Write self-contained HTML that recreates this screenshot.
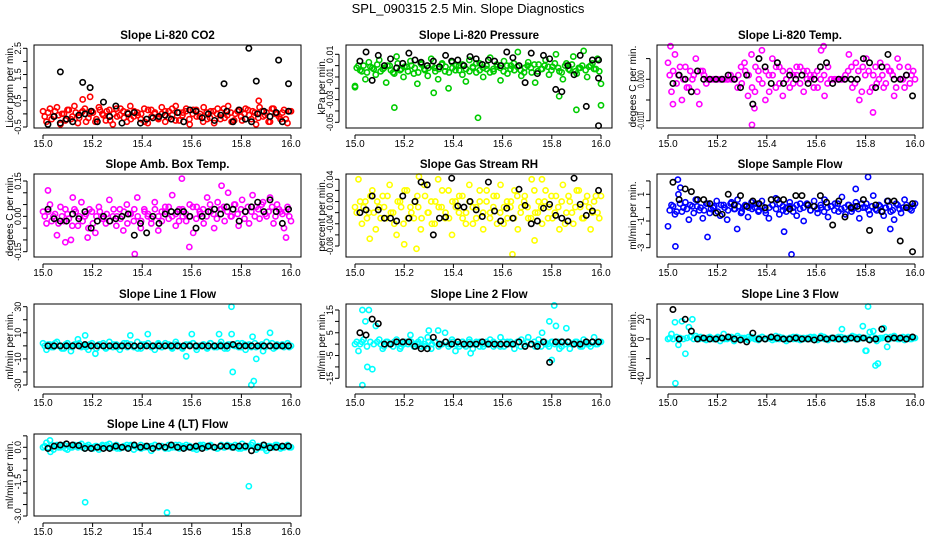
<!DOCTYPE html>
<html><head><meta charset="utf-8"><style>
body{margin:0;background:#fff;}
svg{display:block;font-family:"Liberation Sans",sans-serif;}
</style></head><body>
<svg id="c" width="936" height="540" viewBox="0 0 936 540">
<text x="468" y="13" text-anchor="middle" font-size="13">SPL_090315  2.5 Min. Slope Diagnostics</text>
</svg>
<script>
// ---- data ----
const co2Main=[0.1,-0.3,0.2,-0.1,0.25,-0.4,0.0,0.15,-0.2,0.3,-0.35,0.05,0.2,-0.15,0.1,-0.3,0.25,0.0,-0.25,0.15,-0.4,0.2,-0.05,0.1,-0.3,0.3,-0.1,0.05,-0.2,0.2,-0.35,0.15,0.0,-0.15,0.25,-0.3,0.1,-0.05,0.3,-0.25,0.05,0.2,-0.4,0.15,-0.1,0.0,0.25,-0.2,0.1,-0.35,0.2,0.05,-0.15,0.3,-0.3,0.0,0.15,-0.25,0.2,-0.05,0.1,-0.4,0.25,-0.1,0.05,-0.3,0.2,0.0,-0.2,0.15,-0.35,0.1];
const co2Main2=[-0.1,0.05,-0.2,0.1,-0.05,0.0,-0.25,0.15,-0.1,0.05,-0.15,0.1,-0.3,0.0,0.05,-0.2,0.15,-0.05,0.1,-0.25,0.0,-0.1,0.2,-0.15,0.05,-0.2,0.1,-0.05,0.0,-0.3,0.15,-0.1,0.05,-0.2,0.0,0.1,-0.15,0.2,-0.25,0.05,-0.05,0.1,-0.2,0.0,0.15,-0.1,-0.3,0.05,-0.15,0.1,0.0,-0.2,0.2,-0.05,0.05,-0.25,0.1,-0.1,0.0,0.15,-0.2,0.05,-0.15,0.1,-0.05,-0.3,0.2,0.0,-0.1,0.05,-0.2,0.1];
const co2Black=[-0.4,-0.1,-0.35,-0.2,-0.3,-0.05,0.0,0.1,-0.3,0.45,-0.1,0.3,-0.35,0.0,0.05,-0.35,-0.2,-0.15,-0.1,-0.05,-0.2,0.05,-0.3,0.15,0.1,-0.15,0.0,-0.25,-0.05,0.1,-0.3,0.15,-0.2,-0.3,0.0,0.1,-0.1,0.05,-0.3,0.1];
const co2ExtraMain=[[15.16,0.55],[15.19,0.65],[15.87,0.5]];
const co2ExtraBlack=[[15.07,1.6],[15.16,1.2],[15.19,1.0],[15.73,1.15],[15.83,2.5],[15.86,1.25],[15.95,2.05],[15.99,1.15]];

const presMain=[-0.018,0.0,-0.005,-0.012,0.003,-0.002,-0.008,0.005,-0.003,-0.015,0.0,-0.006,0.008,-0.004,-0.01,-0.001,0.004,-0.007,-0.016,0.002,-0.003,-0.009,0.006,-0.002,-0.012,0.001,-0.005,-0.02,0.003,-0.004,0.0,-0.008,-0.014,0.005,-0.002,-0.006,0.002,-0.01,-0.003,0.007,-0.005,-0.001,-0.013,0.004,-0.007,0.0,-0.004,0.012,-0.009,-0.002,0.003,-0.006,-0.015,0.001,-0.003,0.005,-0.008,-0.001,0.01,-0.005,-0.012,0.002,-0.004,0.008,-0.007,-0.002,0.013,-0.01,0.0,-0.003,0.006,-0.016];
const presMain2=[-0.002,-0.004,0.0,-0.006,-0.001,-0.003,0.001,-0.005,-0.002,0.0,-0.004,-0.007,0.002,-0.003,-0.001,-0.005,0.0,-0.002,-0.006,0.001,-0.004,-0.002,0.0,-0.005,-0.003,0.002,-0.001,-0.006,-0.002,0.0,-0.004,0.001,-0.003,-0.005,-0.001,0.002,-0.004,-0.002,0.0,-0.006,-0.003,0.001,-0.002,-0.005,0.0,-0.003,0.002,-0.001,-0.004,-0.006,0.0,-0.002,0.001,-0.005,-0.003,0.0,-0.001,-0.004,0.002,-0.002,-0.006,0.0,-0.003,0.001,-0.005,-0.002,0.0,-0.004,-0.001,0.002,-0.003,-0.005];
const presBlack=[0.004,0.012,-0.013,0.009,0.0,0.006,-0.002,0.002,0.011,0.005,0.003,0.0,0.004,-0.001,0.009,0.004,0.005,0.0,0.008,0.006,0.001,0.005,0.004,0.0,0.012,0.007,0.0,-0.015,0.011,-0.007,0.009,0.006,-0.021,-0.023,0.0,-0.008,0.009,-0.036,0.005,0.005];
const presExtraMain=[[15.16,-0.037],[15.5,-0.046],[15.9,-0.039],[16.0,-0.035],[15.32,-0.024],[15.83,-0.027],[15.0,-0.019]];
const presExtraBlack=[[15.99,-0.053],[15.99,-0.011]];

const tempMain=[0.004,-0.003,0.006,0.001,-0.005,0.003,-0.002,0.0,0.005,-0.006,0.002,-0.001,0.0,0.0,0.0,0.0,0.0,0.0,0.001,0.0,-0.002,0.003,0.004,-0.004,0.006,-0.003,0.002,0.007,-0.005,0.001,0.005,-0.002,0.003,-0.004,0.0,0.002,-0.001,0.001,0.003,-0.003,0.002,0.0,0.001,-0.002,0.007,-0.004,0.003,0.0,0.0,0.0,0.0,0.001,0.006,-0.002,0.004,-0.005,0.003,0.005,-0.003,0.001,-0.001,0.004,-0.002,0.003,0.002,-0.004,0.005,0.0,-0.002,0.003,0.001,0.0];
const tempMain2=[0.001,0.002,-0.001,0.003,0.0,-0.002,0.002,0.001,-0.003,0.002,0.001,0.0,0.0,0.0,0.0,0.0,0.0,0.0,0.0,0.0,0.001,-0.001,0.002,0.001,-0.002,0.003,0.0,-0.001,0.002,-0.003,0.001,0.003,-0.001,0.002,0.0,-0.002,0.001,0.003,-0.001,0.002,0.0,0.001,-0.002,0.002,0.0,0.001,-0.001,0.0,0.0,0.0,0.0,0.0,0.002,0.003,-0.001,0.002,-0.003,0.001,0.002,-0.002,0.003,0.0,0.001,-0.001,0.002,0.001,-0.002,0.003,0.0,0.001,-0.001,0.002];
const tempBlack=[-0.001,0.001,0.0,-0.003,0.002,0.0,0.0,0.0,0.0,0.001,0.0,-0.002,0.001,-0.006,0.005,0.003,-0.001,0.004,-0.001,0.001,0.0,0.001,-0.001,0.0,0.003,0.004,-0.001,0.0,0.0,0.0,0.0,0.005,0.004,-0.002,0.003,0.006,0.0,0.0,0.001,-0.004];
const tempExtraMain=[[15.01,0.008],[15.34,-0.011],[15.63,0.008],[15.83,-0.008],[15.02,-0.006],[15.35,-0.007]];
const tempExtraBlack=[];

const ambMain=[0.02,-0.03,0.05,0.0,-0.08,0.04,-0.02,0.01,-0.1,0.03,-0.04,0.06,0.0,-0.05,0.02,-0.07,0.04,-0.01,-0.03,0.07,0.0,-0.04,0.03,-0.06,0.05,0.01,-0.02,0.08,-0.05,0.03,0.0,-0.03,0.06,-0.06,0.02,0.04,-0.01,0.09,-0.04,0.03,0.0,-0.02,0.05,-0.07,0.04,0.01,-0.03,0.08,0.02,-0.05,0.06,0.03,-0.02,0.1,0.0,0.05,-0.04,0.07,0.02,-0.03,0.09,0.04,-0.01,0.06,0.0,0.08,-0.03,0.05,0.02,-0.05,0.04,-0.02];
const ambMain2=[0.0,0.02,-0.02,0.01,-0.03,0.0,0.03,-0.01,-0.04,0.02,0.0,-0.02,0.01,0.03,-0.03,0.0,0.02,-0.01,0.01,-0.02,0.03,0.0,-0.01,0.02,-0.03,0.01,0.03,0.0,-0.02,0.02,0.01,-0.01,0.03,0.0,-0.02,0.02,0.04,0.0,0.01,-0.02,0.03,0.01,0.0,0.04,-0.01,0.02,0.03,0.0,0.05,0.01,-0.01,0.03,0.04,0.02,0.0,0.05,0.01,0.03,-0.01,0.04,0.02,0.0,0.03,0.05,0.01,0.02,0.04,0.0,0.03,0.01,0.02,0.0];
const ambBlack=[0.03,-0.01,-0.02,-0.02,0.01,-0.01,0.02,-0.05,-0.02,0.0,-0.02,-0.01,0.0,0.01,-0.08,-0.03,-0.07,0.0,-0.03,0.01,0.02,0.02,0.02,0.0,-0.05,0.0,0.02,0.03,0.01,0.04,0.03,-0.02,0.02,0.04,0.06,0.02,0.07,0.02,-0.03,0.03];
const ambExtraMain=[[15.02,0.11],[15.12,0.08],[15.56,0.16],[15.72,0.13],[15.37,-0.16],[15.59,-0.13],[15.09,-0.11],[15.18,-0.09],[15.98,-0.09]];
const ambExtraBlack=[];

const rhMain=[-0.01,0.04,-0.04,0.0,-0.02,0.02,-0.05,-0.01,0.01,-0.03,0.03,-0.02,-0.06,0.0,-0.04,0.02,-0.01,-0.03,0.01,-0.05,0.03,-0.02,0.0,-0.04,0.04,-0.01,-0.03,0.02,-0.06,0.0,-0.02,0.01,-0.04,0.03,-0.01,-0.03,0.0,-0.05,0.02,-0.02,0.01,-0.04,0.03,-0.01,-0.03,0.0,0.02,-0.05,-0.01,0.01,-0.03,0.04,-0.02,0.0,-0.04,0.02,-0.01,-0.03,0.01,-0.05,0.03,-0.02,0.0,-0.04,0.02,-0.01,-0.03,0.01,-0.05,0.0,-0.02,0.01];
const rhMain2=[-0.02,0.0,-0.01,-0.03,0.01,-0.02,0.0,-0.03,-0.01,0.01,-0.02,-0.04,0.0,-0.01,0.02,-0.03,-0.02,0.0,-0.01,-0.03,0.01,-0.02,-0.04,0.0,-0.01,0.02,-0.02,-0.03,0.0,-0.01,0.01,-0.03,-0.02,0.0,-0.04,-0.01,0.02,-0.02,0.0,-0.03,-0.01,0.01,-0.02,-0.04,0.0,-0.01,-0.03,0.01,-0.02,0.0,-0.01,-0.03,0.02,-0.02,-0.01,0.0,-0.03,0.01,-0.02,-0.01,0.0,-0.04,0.01,-0.02,-0.01,0.02,-0.03,0.0,-0.01,-0.02,0.01,-0.03];
const rhBlack=[-0.02,-0.015,0.01,-0.015,-0.03,-0.03,-0.035,0.01,-0.03,0.0,0.035,0.03,-0.06,-0.03,-0.028,0.042,-0.008,-0.01,0.0,-0.015,-0.027,0.035,-0.017,-0.035,-0.012,-0.03,0.022,-0.007,-0.04,-0.035,-0.012,-0.005,-0.025,-0.03,-0.035,0.042,-0.005,-0.025,-0.017,0.02];
const rhExtraMain=[[15.26,0.045],[15.76,0.04],[15.64,-0.095],[15.25,-0.085],[15.2,-0.077],[15.73,-0.07],[15.06,-0.067]];
const rhExtraBlack=[];

const flowMain=[-1.4,0.2,-0.5,1.0,-0.3,0.4,-0.9,0.1,0.6,-0.2,-0.8,0.3,-0.4,0.0,0.5,-0.6,0.2,-0.9,0.3,-0.1,0.6,-0.4,0.1,-0.7,0.4,0.0,-0.3,0.5,-0.2,-0.8,0.2,0.7,-0.5,0.1,-0.3,0.4,0.0,-0.6,0.3,-1.0,0.2,-0.2,0.5,-0.4,0.0,0.6,-0.7,0.1,0.3,-0.3,0.8,-0.5,0.2,-0.1,0.4,-0.8,0.0,0.3,-0.5,0.9,-0.2,0.1,-0.6,0.5,-0.3,-0.9,0.2,-0.4,0.6,0.0,-0.2,0.3];
const flowMain2=[-0.2,0.1,-0.3,0.3,0.0,-0.1,0.2,-0.4,0.1,0.0,-0.2,0.3,-0.1,0.1,-0.3,0.2,0.0,-0.2,0.4,-0.1,0.1,-0.3,0.2,0.0,-0.1,0.3,-0.2,0.1,-0.4,0.0,0.2,-0.1,0.3,-0.2,0.0,0.1,-0.3,0.2,-0.1,0.0,0.3,-0.2,0.1,-0.1,0.2,-0.3,0.0,0.1,-0.2,0.3,-0.1,0.0,0.2,-0.3,0.1,-0.1,0.3,0.0,-0.2,0.1,-0.1,0.2,-0.3,0.0,0.1,-0.2,0.3,-0.1,0.0,0.2,-0.1,0.1];
const flowBlack=[1.9,0.6,1.4,1.2,0.6,0.6,0.3,-0.4,-0.5,1.0,0.2,0.9,0.1,0.5,0.3,0.0,0.6,0.6,0.6,-0.1,0.9,0.9,0.2,0.1,0.9,0.4,-1.3,0.5,-0.7,0.0,0.1,0.6,-1.7,0.2,-0.3,0.5,0.5,-2.5,0.0,0.3];
const flowExtraMain=[[15.04,2.1],[15.03,-2.9],[15.16,-2.2],[15.28,-1.6],[15.47,-1.8],[15.5,-3.5],[15.81,2.3],[15.76,1.4],[15.9,-1.6],[15.05,1.5]];
const flowExtraBlack=[[15.99,-3.3]];

const l1Main=[2,-3,1,-1,3,0,-2,2,-4,1,5,-1,0,-3,2,-6,1,0,-2,3,-1,1,-3,0,2,8,-1,3,-2,1,9,0,-3,2,-1,0,1,-2,3,0,-1,-8,1,2,-3,0,1,-2,2,-1,0,3,-2,1,9,0,-1,2,-3,1,7,-1,0,-4,3,10,-2,1,0,-1,2,0];
const l1Main2=[0,1,-1,2,0,-2,1,0,-1,1,2,0,-1,1,0,-2,1,2,-1,0,1,-1,0,2,-1,1,0,-2,1,0,2,-1,0,1,-1,2,0,-1,1,0,-2,1,0,2,-1,0,1,-1,2,0,-1,1,0,-2,1,0,2,-1,1,0,-1,2,0,1,-1,0,2,-1,0,1,0,-1];
const l1Black=[0,0,0,0,0,0,1,0,0,0,0,0,0,0,0,0,0,0,0,0,0,0,0,0,0,0,0,0,0,0,1,0,0,0,0,0,0,0,0,0];
const l1ExtraMain=[[15.76,30],[15.765,-20],[15.84,-30],[15.85,-27],[15.86,-10],[15.6,9],[15.71,9],[15.17,8]];
const l1ExtraBlack=[];

const l2Main=[0,-3,1,10,15,-11,8,2,-2,1,0,-1,2,-2,0,1,4,-1,0,2,-1,3,-2,1,6,0,5,-1,2,-3,0,1,-1,2,-2,0,1,-1,0,2,-1,0,3,-1,1,0,-2,1,2,-1,3,0,-1,2,5,0,-1,1,8,-2,1,7,-2,0,1,-1,2,0,-1,3,0,1];
const l2Main2=[1,0,2,-1,1,0,1,0,-1,1,0,1,0,-1,1,0,1,0,1,-1,0,1,0,1,-1,0,1,0,1,0,-1,1,0,1,0,1,-1,0,1,0,1,0,-1,1,0,1,0,1,-1,0,1,0,1,0,-1,1,0,1,0,1,-1,0,1,0,1,0,-1,1,0,1,0,1];
const l2Black=[5,4,11,9,0,0,1,1,1,-1,-2,-2,3,0,1,0,1,0,0,0,1,0,0,0,0,0,1,-1,0,-1,1,-8,1,1,1,0,0,1,1,1];
const l2ExtraMain=[[15.03,-18],[15.81,17],[15.79,10],[15.8,-7],[15.03,15],[15.05,-10],[15.47,-4],[15.3,6]];
const l2ExtraBlack=[];

const l3Main=[0,5,17,-6,18,-15,12,20,3,0,1,-1,2,0,1,-2,5,0,1,-2,3,0,1,-1,2,0,-1,2,0,1,-1,3,0,1,-2,1,0,2,-1,0,1,0,2,-1,3,0,-1,1,0,2,10,-1,1,3,0,2,13,-12,7,8,-2,1,11,-8,2,3,0,1,-1,2,0,1];
const l3Main2=[1,0,2,1,0,1,2,0,1,2,0,1,1,0,2,1,0,1,2,0,1,1,0,2,1,0,1,2,0,1,1,0,2,1,0,1,2,0,1,1,0,2,1,0,1,2,0,1,1,0,2,1,0,1,2,0,1,1,0,2,1,0,1,2,0,1,1,0,2,1,0,1];
const l3Black=[30,0,20,8,0,1,0,0,1,2,0,-1,-3,6,0,0,2,1,0,0,1,0,0,-1,1,0,1,0,0,1,0,1,-1,0,10,0,1,1,0,2];
const l3ExtraMain=[[15.03,-45],[15.81,33],[15.84,-27],[15.85,-25],[15.8,-12]];
const l3ExtraBlack=[];

const l4Main=[0.0,0.2,0.3,-0.1,0.1,0.0,0.1,-0.1,0.0,0.1,0.0,0.15,-0.05,0.1,0.0,0.05,-0.1,0.1,0.0,0.15,0.0,0.1,-0.05,0.0,0.1,0.05,-0.1,0.0,0.1,0.0,0.05,-0.15,0.1,0.0,0.05,-0.05,0.1,0.0,0.1,-0.05,0.0,0.1,0.05,0.0,-0.1,0.1,0.0,0.05,0.1,0.0,-0.05,0.1,0.0,0.05,0.0,0.1,-0.05,0.15,0.0,0.05,0.2,-0.1,0.0,0.1,-0.15,0.05,0.0,0.1,-0.05,0.0,0.1,0.0];
const l4Main2=[0.05,0.0,0.1,0.05,0.0,0.05,-0.05,0.05,0.0,0.05,0.1,0.0,0.05,0.0,-0.05,0.05,0.0,0.05,0.1,0.0,0.05,-0.05,0.0,0.05,0.0,0.1,0.05,0.0,-0.05,0.05,0.0,0.05,0.1,0.0,0.05,0.0,-0.05,0.05,0.0,0.1,0.05,0.0,0.05,-0.05,0.0,0.05,0.1,0.0,0.05,0.0,-0.05,0.05,0.0,0.1,0.05,0.0,0.05,-0.05,0.0,0.05,0.1,0.0,0.05,0.0,-0.05,0.05,0.0,0.1,0.05,0.0,0.05,0.0];
const l4Black=[-0.05,0.05,0.1,0.15,0.1,0.08,-0.05,-0.05,0.0,-0.05,-0.05,0.05,0.0,-0.05,0.1,0.0,0.05,-0.05,0.05,0.0,0.1,0.0,-0.05,0.0,0.05,-0.05,0.05,0.0,0.05,0.05,0.0,0.05,0.05,-0.15,0.0,0.1,-0.02,0.0,0.05,0.05];
const l4ExtraMain=[[15.03,-0.2],[15.17,-2.4],[15.5,-2.85],[15.83,-1.7]];
const l4ExtraBlack=[];

const xTickVals=[15.0,15.2,15.4,15.6,15.8,16.0];
const xTickLabels=["15.0","15.2","15.4","15.6","15.8","16.0"];

// ---- layout ----
const cols=[{bx0:34,bx1:301,x15:43,x16:291,lab:9},{bx0:346,bx1:612,x15:355,x16:601,lab:321},{bx0:657,bx1:923,x15:668,x16:915,lab:632}];
const rows=[{top:45,bot:128},{top:174,bot:257},{top:304,bot:387},{top:434,bot:516}];
const NS='http://www.w3.org/2000/svg';
const svg=document.getElementById('c');
function el(tag,attrs,parent){const e=document.createElementNS(NS,tag);for(const k in attrs)e.setAttribute(k,attrs[k]);(parent||svg).appendChild(e);return e;}

const panels=[
 {key:'co2',title:'Slope Li-820 CO2',ylab:'Licor ppm per min.',col:0,row:0,color:'#ff0000',main:co2Main,main2:co2Main2,black:co2Black,em:co2ExtraMain,eb:co2ExtraBlack,v1:2.5,p1:48.3,v2:-0.5,p2:127,ticks:[2.5,2.0,1.5,1.0,0.5,0.0,-0.5],labels:['2.5','','1.5','','0.5','','-0.5']},
 {key:'pressure',title:'Slope Li-820 Pressure',ylab:'kPa per min.',col:1,row:0,color:'#00cc00',main:presMain,main2:presMain2,black:presBlack,em:presExtraMain,eb:presExtraBlack,v1:0.01,p1:54.3,v2:-0.05,p2:122.3,ticks:[0.01,0,-0.01,-0.02,-0.03,-0.04,-0.05],labels:['0.01','','-0.01','','-0.03','','-0.05']},
 {key:'temp',title:'Slope Li-820 Temp.',ylab:'degees C per min.',col:2,row:0,color:'#ff00ff',main:tempMain,main2:tempMain2,black:tempBlack,em:tempExtraMain,eb:tempExtraBlack,v1:0,p1:79.3,v2:-0.01,p2:120.7,ticks:[0.005,0,-0.005,-0.01],labels:['','0.000','','-0.010']},
 {key:'amb',title:'Slope Amb. Box Temp.',ylab:'degees C per min.',col:0,row:1,color:'#ff00ff',main:ambMain,main2:ambMain2,black:ambBlack,em:ambExtraMain,eb:ambExtraBlack,v1:0.15,p1:181,v2:-0.15,p2:251.7,ticks:[0.15,0.1,0.05,0,-0.05,-0.1,-0.15],labels:['0.15','','','0.00','','','-0.15']},
 {key:'rh',title:'Slope Gas Stream RH',ylab:'percent per min.',col:1,row:1,color:'#ffff00',main:rhMain,main2:rhMain2,black:rhBlack,em:rhExtraMain,eb:rhExtraBlack,v1:0.04,p1:179.3,v2:-0.08,p2:246,ticks:[0.04,0.02,0,-0.02,-0.04,-0.06,-0.08],labels:['0.04','','0.00','','-0.04','','-0.08']},
 {key:'sample-flow',title:'Slope Sample Flow',ylab:'ml/min per min.',col:2,row:1,color:'#0000ff',main:flowMain,main2:flowMain2,black:flowBlack,em:flowExtraMain,eb:flowExtraBlack,v1:1,p1:194.3,v2:-3,p2:247.7,ticks:[2,1,0,-1,-2,-3],labels:['','1','','-1','','-3']},
 {key:'line1',title:'Slope Line 1 Flow',ylab:'ml/min per min.',col:0,row:2,color:'#00ffff',main:l1Main,main2:l1Main2,black:l1Black,em:l1ExtraMain,eb:l1ExtraBlack,v1:30,p1:306.7,v2:-30,p2:385,ticks:[30,20,10,0,-10,-20,-30],labels:['30','','10','','-10','','-30']},
 {key:'line2',title:'Slope Line 2 Flow',ylab:'ml/min per min.',col:1,row:2,color:'#00ffff',main:l2Main,main2:l2Main2,black:l2Black,em:l2ExtraMain,eb:l2ExtraBlack,v1:15,p1:310,v2:-15,p2:378.3,ticks:[15,10,5,0,-5,-10,-15],labels:['15','','5','','-5','','-15']},
 {key:'line3',title:'Slope Line 3 Flow',ylab:'ml/min per min.',col:2,row:2,color:'#00ffff',main:l3Main,main2:l3Main2,black:l3Black,em:l3ExtraMain,eb:l3ExtraBlack,v1:20,p1:319.3,v2:-40,p2:378.3,ticks:[20,0,-20,-40],labels:['20','0','','-40']},
 {key:'line4',title:'Slope Line 4 (LT) Flow',ylab:'ml/min per min.',col:0,row:3,color:'#00ffff',main:l4Main,main2:l4Main2,black:l4Black,em:l4ExtraMain,eb:l4ExtraBlack,v1:0,p1:447.3,v2:-3,p2:516,ticks:[0.5,0,-0.5,-1,-1.5,-2,-2.5,-3],labels:['','0.0','','','-1.5','','','-3.0']}
];

panels.forEach(p=>{
  const c=cols[p.col], r=rows[p.row];
  const xs=v=>c.x15+(v-15)*(c.x16-c.x15);
  const ys=v=>p.p1+(v-p.v1)*(p.p2-p.p1)/(p.v2-p.v1);
  const g=el('g',{});
  
  
  const t=el('text',{x:(c.bx0+c.bx1)/2,y:r.top-6,'text-anchor':'middle','font-size':'11.5','font-weight':'bold'},g);
  t.textContent=p.title;
  
  
  const yl=el('text',{x:0,y:0,transform:`translate(${c.lab+4},${(r.top+r.bot)/2}) rotate(-90)`,'text-anchor':'middle','font-size':'10'},g);
  yl.textContent=p.ylab;
  
  
  // points
  const pts=el('g',{fill:'none','stroke-width':'1.6'},g);
  
  
  const n=p.main.length;
  p.main.forEach((v,i)=>{
    const cc=el('circle',{cx:xs(15+i/(n-1)),cy:ys(v),r:2.6,stroke:p.color},pts);
    
    
  });
  const n2=p.main2.length;
  p.main2.forEach((v,i)=>{
    const cc=el('circle',{cx:xs(15.007+0.986*i/(n2-1)),cy:ys(v),r:2.6,stroke:p.color},pts);
    
    
  });
  p.em.forEach(d=>{
    const cc=el('circle',{cx:xs(d[0]),cy:ys(d[1]),r:2.6,stroke:p.color},pts);
    
    
  });
  const m=p.black.length;
  p.black.forEach((v,i)=>{
    const cc=el('circle',{cx:xs(15.02+0.97*i/(m-1)),cy:ys(v),r:2.7,stroke:'#000'},pts);
    
    
  });
  p.eb.forEach(d=>{
    const cc=el('circle',{cx:xs(d[0]),cy:ys(d[1]),r:2.7,stroke:'#000'},pts);
    
    
  });
  // box
  const box=el('rect',{x:c.bx0,y:r.top,width:c.bx1-c.bx0,height:r.bot-r.top,fill:'none',stroke:'#000','stroke-width':'1'},g);
  
  
  // x axis
  const xa=el('g',{},g);
  
  
  el('line',{x1:xs(15),x2:xs(16),y1:r.bot+7,y2:r.bot+7,stroke:'#000'},xa);
  xTickVals.forEach((v,i)=>{
    el('line',{x1:xs(v),x2:xs(v),y1:r.bot+7,y2:r.bot+11,stroke:'#000'},xa);
    const tl=el('text',{x:xs(v),y:r.bot+19,'text-anchor':'middle','font-size':'10'},xa);
    tl.textContent=xTickLabels[i];
    
    
  });
  // y axis
  const ya=el('g',{},g);
  
  
  const ax=c.bx0-7;
  el('line',{x1:ax,x2:ax,y1:ys(p.ticks[0]),y2:ys(p.ticks[p.ticks.length-1]),stroke:'#000'},ya);
  p.ticks.forEach((v,i)=>{
    el('line',{x1:ax-4,x2:ax,y1:ys(v),y2:ys(v),stroke:'#000'},ya);
    if(p.labels[i]){
      const attrs={x:0,y:0,transform:`translate(${ax-6},${ys(v)}) rotate(-90)`,'text-anchor':'middle','font-size':'9'};
      if(p.labels[i].length>=5){attrs.textLength=18;attrs.lengthAdjust='spacingAndGlyphs';}
      const tl=el('text',attrs,ya);
      tl.textContent=p.labels[i];
      
      
    }
  });
});
</script>
</body></html>
